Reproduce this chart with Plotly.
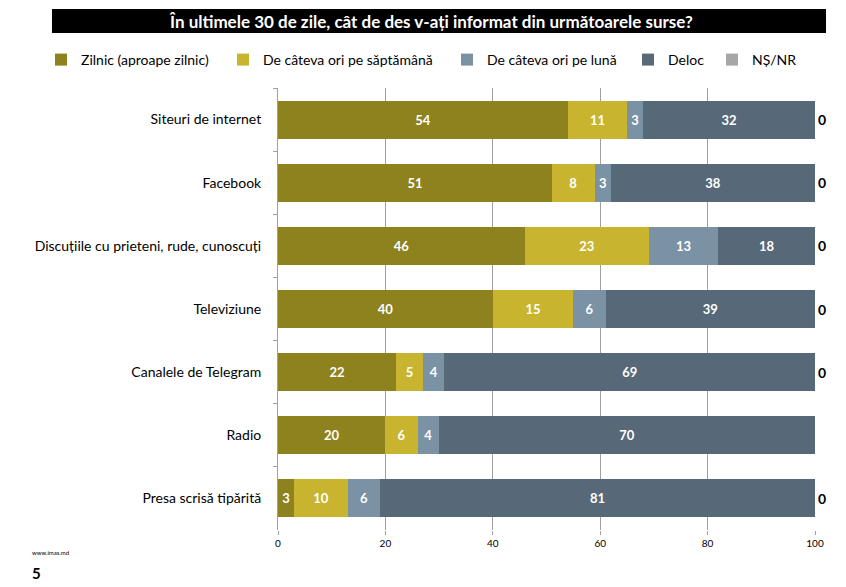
import plotly.graph_objects as go

# categories, top to bottom
categories = [
    "Siteuri de internet",
    "Facebook",
    "Discuțiile cu prieteni, rude, cunoscuți",
    "Televiziune",
    "Canalele de Telegram",
    "Radio",
    "Presa scrisă tipărită",
]

series_names = [
    "Zilnic (aproape zilnic)",
    "De câteva ori pe săptămână",
    "De câteva ori pe lună",
    "Deloc",
    "NȘ/NR",
]

daily = [54, 51, 46, 40, 22, 20, 3]
weekly = [11, 8, 23, 15, 5, 6, 10]
monthly = [3, 3, 13, 6, 4, 4, 6]
never = [32, 38, 18, 39, 69, 70, 81]
dk_na = [0, 0, 0, 0, 0, 0, 0]
dk_na_labels = ["0", "0", "0", "0", "0", "", "0"]

x_ticks = [0, 20, 40, 60, 80, 100]

colors = ["#8E821E", "#C9B42F", "#7A92A4", "#576878", "#A6A6A6"]

FONT = "Lato"

# the page body adds an 8px margin, so the figure is drawn 8px smaller
W, H = 838, 579

# each series gets its own legend so the row can be spaced like the original
legend_ids = ["legend", "legend2", "legend3", "legend4", "legend5"]
legend_x = [33, 215, 439, 620, 704]

fig = go.Figure()

for i, (vals, col) in enumerate(zip([daily, weekly, monthly, never], colors[:4])):
    fig.add_trace(go.Bar(
        y=categories, x=vals, name=series_names[i], orientation="h",
        legend=legend_ids[i],
        marker=dict(color=col, line=dict(width=0)),
        text=[str(v) for v in vals], textposition="inside",
        insidetextanchor="middle", textangle=0,
        textfont=dict(color="white", size=13, family=FONT, weight="bold"),
        constraintext="none",
    ))

# NS/NR: zero width, its label sits just past the end of the bar
fig.add_trace(go.Bar(
    y=categories, x=dk_na, name=series_names[4], orientation="h",
    legend=legend_ids[4],
    marker=dict(color=colors[4], line=dict(width=0)),
    text=dk_na_labels, textposition="outside", textangle=0,
    textfont=dict(color="black", size=14, family=FONT, weight="bold"),
    cliponaxis=False,
))

legend_style = dict(
    orientation="h", xref="container", yref="container",
    y=1 - 52 / H, xanchor="left", yanchor="middle",
    font=dict(size=14, family=FONT, color="black"),
    itemwidth=30, bgcolor="rgba(0,0,0,0)", borderwidth=0,
)
legends = {lid: dict(legend_style, x=lx / W) for lid, lx in zip(legend_ids, legend_x)}

fig.update_layout(
    barmode="stack",
    bargap=0.4,
    width=W, height=H,
    margin=dict(l=270, r=31, t=80, b=57, autoexpand=False),
    paper_bgcolor="white",
    plot_bgcolor="white",
    font=dict(family=FONT, color="black"),
    showlegend=True,
    xaxis=dict(
        range=[0, 100], tickvals=x_ticks, showgrid=True,
        gridcolor="#A0A0A0", gridwidth=1, zeroline=False,
        showline=False, ticks="outside",
        ticklen=4, tickcolor="#A0A0A0",
        tickfont=dict(size=10, family=FONT, color="black"),
    ),
    yaxis=dict(
        categoryorder="array", categoryarray=categories,
        autorange="reversed", showgrid=False, zeroline=False,
        showline=True, linecolor="#A0A0A0",
        ticks="outside", tickson="boundaries", ticklen=4, tickcolor="#A0A0A0",
        tickfont=dict(size=14, family=FONT, color="black"),
        ticklabelstandoff=13,
    ),
    shapes=[dict(
        type="rect", xref="paper", yref="paper",
        x0=-0.4209, x1=1.0205, y0=1.1244, y1=1.1787,
        fillcolor="black", line=dict(width=0), layer="below",
    )],
    annotations=[
        dict(
            text="<b>În ultimele 30 de zile, cât de des v-ați informat din următoarele surse?</b>",
            xref="paper", yref="paper", x=0.285, y=1.1515,
            xanchor="center", yanchor="middle", showarrow=False,
            font=dict(size=17, color="white", family=FONT),
        ),
        dict(
            text="www.imas.md", xref="paper", yref="paper",
            x=-0.462, y=-0.0498, xanchor="left", yanchor="middle",
            showarrow=False, font=dict(size=6, family=FONT, color="black"),
        ),
        dict(
            text="<b>5</b>", xref="paper", yref="paper",
            x=-0.462, y=-0.0973, xanchor="left", yanchor="middle",
            showarrow=False, font=dict(size=15, family=FONT, color="black"),
        ),
    ],
    **legends,
)

fig.write_html("out.html")
